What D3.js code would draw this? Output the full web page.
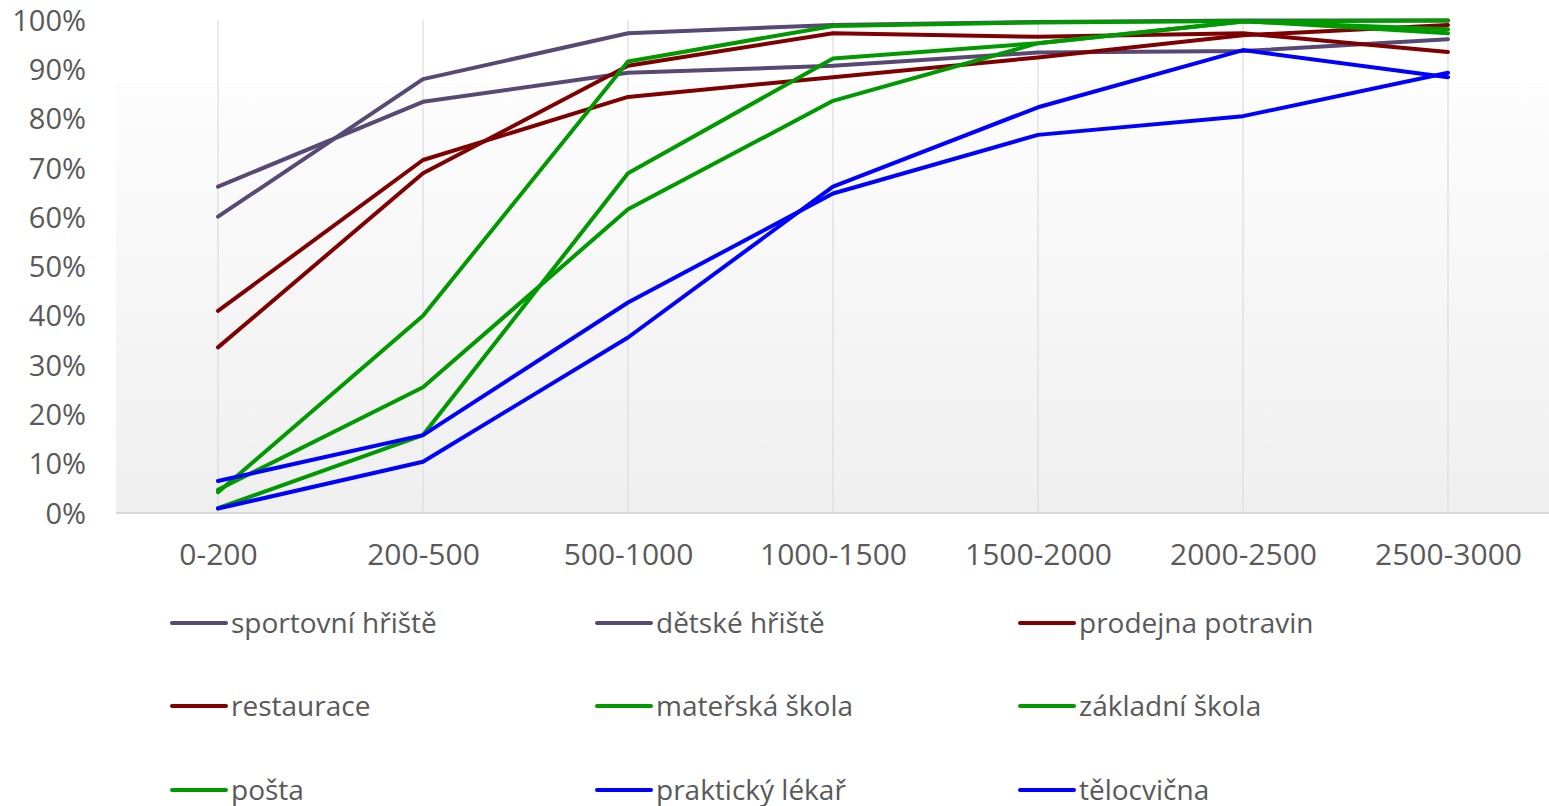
<!DOCTYPE html>
<html><head><meta charset="utf-8">
<script src="https://cdn.jsdelivr.net/npm/d3@7"></script>
<style>body{margin:0;background:#fff;font-family:"Open Sans",sans-serif;}</style>
</head><body>
<svg id="c" width="1549" height="806"></svg>
<script>
const categories = ["0-200","200-500","500-1000","1000-1500","1500-2000","2000-2500","2500-3000"];
const seriesNames = ["sportovní hřiště","dětské hřiště","prodejna potravin","restaurace","mateřská škola","základní škola","pošta","praktický lékař","tělocvična"];
const sportovniHriste   = [60.1, 88.0, 97.3, 99.0, 99.6, 99.9, 99.9];
const detskeHriste      = [66.2, 83.4, 89.3, 90.7, 93.4, 93.7, 96.1];
const prodejnaPotravin  = [41.0, 71.6, 84.4, 88.4, 92.4, 96.9, 99.0];
const restaurace        = [33.6, 68.9, 90.7, 97.3, 96.6, 97.3, 93.5];
const materskaSkola     = [4.2, 40.0, 91.6, 98.8, 99.5, 99.8, 97.3];
const zakladniSkola     = [4.7, 25.5, 61.6, 83.6, 95.3, 99.7, 99.9];
const posta             = [1.0, 15.8, 68.9, 92.2, 95.3, 99.7, 98.1];
const praktickyLekar    = [6.5, 15.8, 42.7, 64.8, 76.7, 80.5, 89.3];
const telocvicna        = [0.9, 10.4, 35.6, 66.2, 82.3, 93.9, 88.4];
const yTicks = [0,10,20,30,40,50,60,70,80,90,100];
const colors = ["#584874","#584874","#7f0000","#7f0000","#009900","#009900","#009900","#0000ff","#0000ff"];
const values = [sportovniHriste, detskeHriste, prodejnaPotravin, restaurace, materskaSkola, zakladniSkola, posta, praktickyLekar, telocvicna];

(function(){
const svg = d3.select("#c");
const pLeft = 116, pRight = 1549, pTop = 20, pBottom = 513, bgTop = 83;
const x = d3.scalePoint().domain(categories).range([218, 1448]);
const y = d3.scaleLinear().domain([0,100]).range([pBottom, pTop]);

const defs = svg.append("defs");
const grad = defs.append("linearGradient").attr("id","bg").attr("x1",0).attr("y1",0).attr("x2",0).attr("y2",1);
grad.append("stop").attr("offset","0%").attr("stop-color","#fdfdfd");
grad.append("stop").attr("offset","100%").attr("stop-color","#efefef");
svg.append("rect").attr("x",pLeft).attr("y",bgTop).attr("width",pRight-pLeft).attr("height",pBottom-bgTop).attr("fill","url(#bg)");

svg.append("g").selectAll("line").data(categories).join("line")
  .attr("x1",d=>x(d)).attr("x2",d=>x(d)).attr("y1",pTop).attr("y2",pBottom)
  .attr("stroke","#dcdcdc").attr("stroke-width",1.2);

svg.append("line").attr("x1",pLeft).attr("x2",pRight).attr("y1",pBottom).attr("y2",pBottom)
  .attr("stroke","#d9d9d9").attr("stroke-width",2);

const yAxis = d3.axisLeft(y).tickValues(yTicks).tickFormat(d=>d+"%").tickSize(0).tickPadding(0);
const gy = svg.append("g").attr("transform","translate(86,0)").call(yAxis);
gy.select(".domain").remove();
gy.selectAll("text").attr("fill","#595959").style("font-size","29px").style("font-family","'Open Sans',sans-serif").attr("dy","0.35em");

const xAxis = d3.axisBottom(x).tickSize(0).tickPadding(0);
const gx = svg.append("g").attr("transform","translate(0,541)").call(xAxis);
gx.select(".domain").remove();
gx.selectAll("text").attr("fill","#595959").style("font-size","30px").style("font-family","'Open Sans',sans-serif").attr("dy","0.35em").attr("y",13);

const line = d3.line().x((d,i)=>x(categories[i])).y(d=>y(d));
svg.append("g").selectAll("path").data(values).join("path")
  .attr("d",d=>line(d)).attr("fill","none")
  .attr("stroke",(d,i)=>colors[i]).attr("stroke-width",4).attr("stroke-linejoin","round").attr("stroke-linecap","round");

const colX = [172, 597, 1020], rowY = [623, 706, 790];
const lg = svg.append("g").selectAll("g").data(seriesNames).join("g")
  .attr("transform",(d,i)=>`translate(${colX[i%3]},${rowY[Math.floor(i/3)]})`);
lg.append("line").attr("x1",0).attr("x2",54).attr("y1",0).attr("y2",0)
  .attr("stroke",(d,i)=>colors[i]).attr("stroke-width",4).attr("stroke-linecap","round");
lg.append("text").attr("x",59).attr("y",0).attr("dy","0.35em").text(d=>d)
  .attr("fill","#595959").style("font-size","28px").style("font-family","'Open Sans',sans-serif");
})();
</script>
</body></html>
